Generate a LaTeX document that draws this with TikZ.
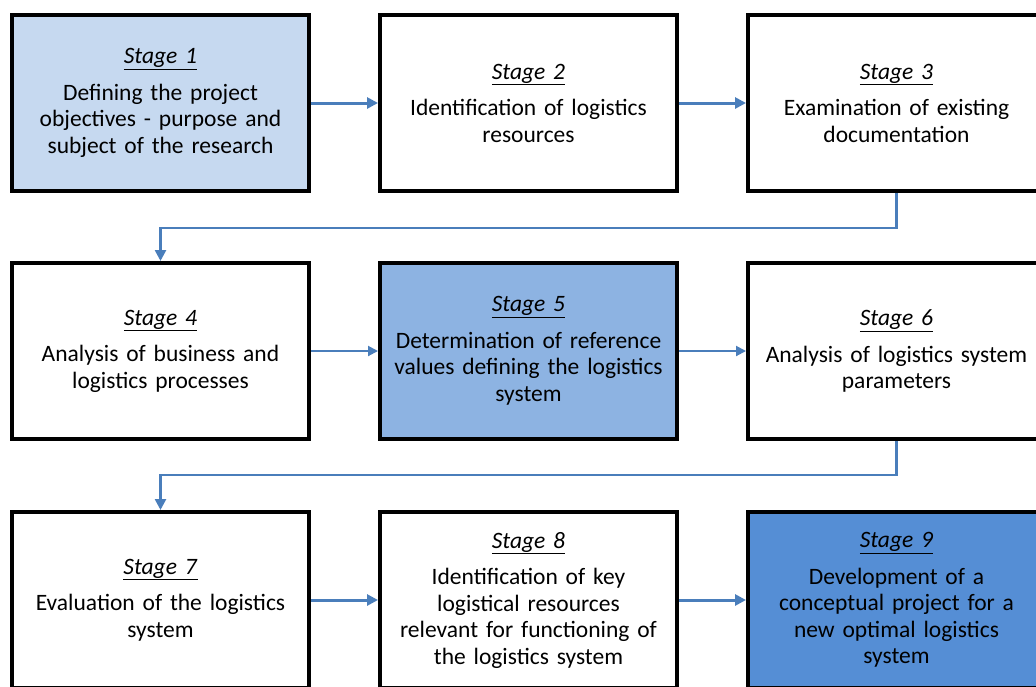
\documentclass[tikz,border=0pt]{standalone}
\usepackage{fontspec}
\setmainfont{Carlito}
\usetikzlibrary{arrows.meta}
\definecolor{lb1}{HTML}{C6D9F0}
\definecolor{lb5}{HTML}{8DB3E2}
\definecolor{lb9}{HTML}{558ED5}
\definecolor{arr}{HTML}{4A7EBB}
\tikzset{
  stagebox/.style={draw=black, line width=4pt, fill=white, minimum width=297pt, minimum height=176pt,
    text width=290pt, align=center, inner sep=0pt, font=\fontsize{23.5}{26.5}\selectfont},
  flowarrow/.style={draw=arr, line width=3pt, -{Triangle[length=11pt,width=11pt]}},
  thinarrow/.style={draw=arr, line width=2pt, -{Triangle[length=10pt,width=10pt]}},
  link/.style={draw=arr, line width=2.5pt, -{Triangle[length=11pt,width=11pt]}}
}
\newcommand{\stg}[1]{\underline{\textit{Stage #1}}\\[10pt]}
\begin{document}
\begin{tikzpicture}[x=1pt,y=-1pt]
\useasboundingbox (0,0) rectangle (1036,686);
\clip (0,0) rectangle (1036,686);
\fill[white] (0,0) rectangle (1036,686);
\node[stagebox, fill=lb1] (s1) at (160.5,103) {\stg{1}Defining the project\\objectives - purpose and\\subject of the research};
\node[stagebox] (s2) at (528.5,103) {\stg{2}Identification of logistics\\resources};
\node[stagebox] (s3) at (896.5,103) {\stg{3}Examination of existing\\documentation};
\node[stagebox] (s4) at (160.5,351) {\stg{4}Analysis of business and\\logistics processes};
\node[stagebox, fill=lb5] (s5) at (528.5,351) {\stg{5}Determination of reference\\values defining the logistics\\system};
\node[stagebox] (s6) at (896.5,351) {\stg{6}Analysis of logistics system\\parameters};
\node[stagebox] (s7) at (160.5,600) {\stg{7}Evaluation of the logistics\\system};
\node[stagebox] (s8) at (528.5,600) {\stg{8}Identification of key\\logistical resources\\relevant for functioning of\\the logistics system};
\node[stagebox, fill=lb9] (s9) at (896.5,600) {\stg{9}Development of a\\conceptual project for a\\new optimal logistics\\system};
\coordinate (c1) at (896.5,228);
\coordinate (c2) at (160.5,228);
\coordinate (c3) at (896.5,475);
\coordinate (c4) at (160.5,475);
\draw[flowarrow] (s1.east) -- (s2.west);
\draw[flowarrow] (s2.east) -- (s3.west);
\draw[thinarrow] (s4.east) -- (s5.west);
\draw[thinarrow] (s5.east) -- (s6.west);
\draw[flowarrow] (s7.east) -- (s8.west);
\draw[flowarrow] (s8.east) -- (s9.west);
\draw[link] (s3.south) -- (c1) -- (c2) -- (s4.north);
\draw[link] (s6.south) -- (c3) -- (c4) -- (s7.north);
\end{tikzpicture}
\end{document}
